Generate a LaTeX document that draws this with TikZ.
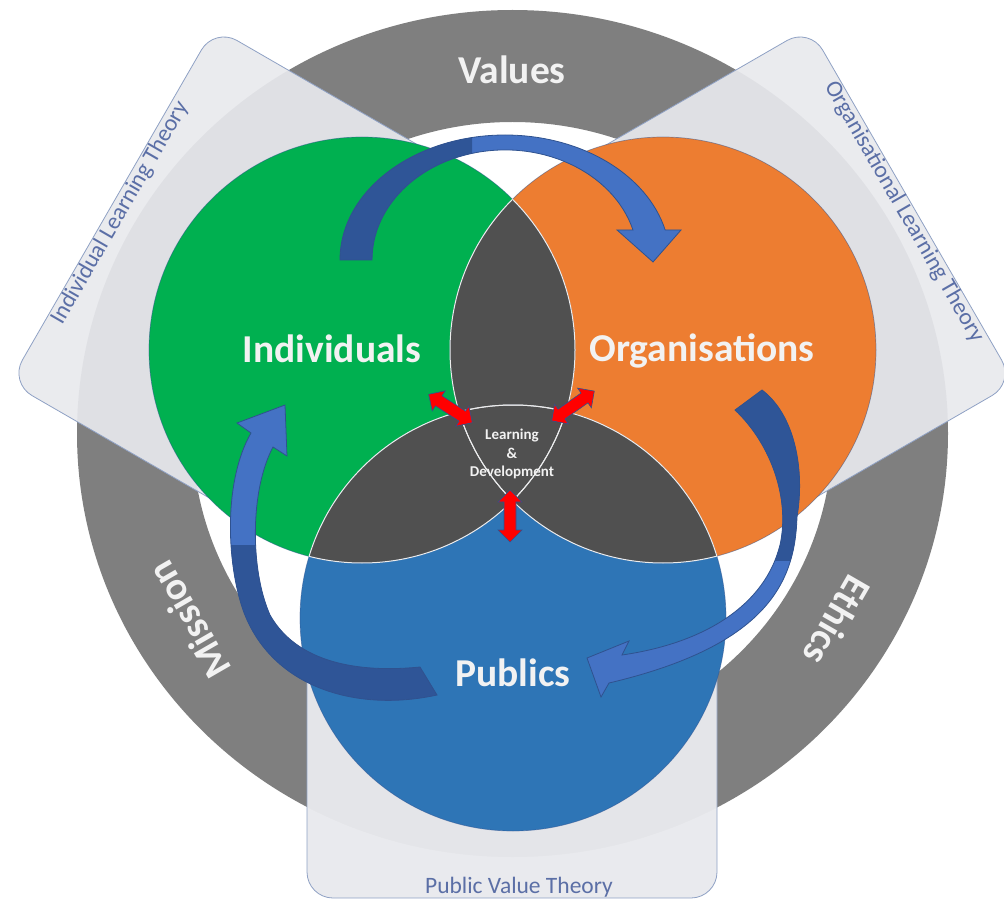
\documentclass[tikz,border=0pt]{standalone}
\usepackage{fontspec}
\setmainfont{Carlito}
\definecolor{ringgray}{HTML}{7F7F7F}
\definecolor{tabfill}{HTML}{E8E9ED}
\definecolor{tabline}{HTML}{8FA1C4}
\definecolor{tabtext}{HTML}{5B6FA6}
\definecolor{cgreen}{HTML}{00B050}
\definecolor{corange}{HTML}{ED7D31}
\definecolor{cblue}{HTML}{2E75B6}
\definecolor{overlap}{HTML}{505050}
\definecolor{arrowlight}{HTML}{4472C4}
\definecolor{arrowdark}{HTML}{2F5597}
\definecolor{arrowline}{HTML}{2F528F}
\definecolor{labelwhite}{HTML}{F2F2F2}
\begin{document}
\begin{tikzpicture}[x=1pt,y=-1pt,
  tab/.style={fill=tabfill, fill opacity=0.92, draw=tabline, line width=0.8pt, rounded corners=26pt},
  tablabel/.style={text=tabtext, font=\fontsize{23.5}{23.5}\selectfont, inner sep=0pt},
  biglabel/.style={text=labelwhite, font=\fontsize{39.5}{39.5}\selectfont\bfseries, inner sep=0pt},
  centrelabel/.style={text=labelwhite, font=\fontsize{15}{18.5}\selectfont\bfseries, align=center, inner sep=0pt},
  circedge/.style={draw=arrowline, draw opacity=0.5, line width=0.7pt},
  innerline/.style={draw=white!85!gray, line width=1pt},
  arrowbody/.style={draw=arrowline, line width=0.8pt},
  dblarrow/.pic={\filldraw[fill=red, draw=arrowline, line width=0.6pt]
     (-26,0) -- (-14,-12) -- (-14,-6) -- (14,-6) -- (14,-12) -- (26,0)
     -- (14,12) -- (14,6) -- (-14,6) -- (-14,12) -- cycle;}
]
\useasboundingbox (0,0) rectangle (1004,901);

% outer ring
\fill[ringgray, even odd rule]
  (512.5,433.5) ellipse[x radius=435.5pt, y radius=423.5pt]
  (512.5,433.5) ellipse[x radius=320pt, y radius=311.5pt];
\node[biglabel, anchor=base] (values) at (512,84) {Values};
\node[biglabel, rotate=120] (mission) at (189,620) {Mission};
\node[biglabel, rotate=-120] (ethics) at (837,621) {Ethics};

% theory tabs
\path[tab, fill opacity=0.97] (307,600) rectangle (717,898);
\begin{scope}[rotate around={-120:(512,436)}]
  \path[tab] (307,600) rectangle (717,898);
\end{scope}
\begin{scope}[rotate around={120:(512,436)}]
  \path[tab] (307,600) rectangle (717,898);
\end{scope}
\node[tablabel, rotate=60] (ilt) at (120,213) {Individual Learning Theory};
\node[tablabel, rotate=-60] (olt) at (904,212) {Organisational Learning Theory};
\node[tablabel, anchor=base] (pvt) at (519,893) {Public Value Theory};

% three circles and their overlaps
\def\cG{(362,350) circle[radius=213pt]}
\def\cO{(663,350) circle[radius=213pt]}
\def\cB{(513,618) circle[radius=213pt]}
\fill[cgreen] \cG;
\fill[corange] \cO;
\fill[cblue] \cB;
\begin{scope}\clip \cG; \fill[overlap] \cO; \fill[overlap] \cB; \end{scope}
\begin{scope}\clip \cO; \fill[overlap] \cB; \end{scope}
\path[circedge] \cG; \path[circedge] \cO; \path[circedge] \cB;
\begin{scope}\clip \cG; \path[innerline] \cO; \path[innerline] \cB; \end{scope}
\begin{scope}\clip \cO; \path[innerline] \cG; \path[innerline] \cB; \end{scope}
\begin{scope}\clip \cB; \path[innerline] \cG; \path[innerline] \cO; \end{scope}

\node[biglabel, anchor=base] (indiv) at (332,362) {Individuals};
\node[biglabel, anchor=base] (org) at (702,361) {Organisations};
\node[biglabel, anchor=base] (pub) at (513,686) {Publics};
\node[centrelabel] (ld) at (512,454) {Learning\\\&\\Development};

% curved arrow: individuals -> organisations
\def\arrowtop{(340,260) arc[start angle=180, end angle=13.9, x radius=165pt, y radius=125pt]
  -- (681,230) -- (653,262) -- (617,230) -- (633,230)
  arc[start angle=15.8, end angle=180, x radius=133pt, y radius=110pt] -- cycle}
\fill[arrowlight] \arrowtop;
\begin{scope}\clip (0,0) rectangle (472,300); \fill[arrowdark] \arrowtop; \end{scope}
\path[arrowbody] \arrowtop;

% curved arrow: organisations -> publics
\def\arrowright{(735,410) -- (762,390)
  .. controls (795,415) and (805,470) .. (797,517)
  .. controls (795,580) and (770,645) .. (609,683)
  -- (601,697) -- (587,658) -- (629,641) -- (622,655)
  .. controls (705,643) and (765,605) .. (780,545)
  .. controls (790,500) and (772,445) .. (735,410) -- cycle}
\fill[arrowlight] \arrowright;
\begin{scope}\clip (600,380) rectangle (830,560); \fill[arrowdark] \arrowright; \end{scope}
\path[arrowbody] \arrowright;

% curved arrow: publics -> individuals
\def\arrowleft{(420,667) -- (437,695)
  .. controls (360,712) and (272,690) .. (243,610)
  .. controls (226,560) and (224,480) .. (251,433)
  -- (237,423) -- (285,405) -- (287,456) -- (273,447)
  .. controls (250,490) and (250,570) .. (270,615)
  .. controls (300,668) and (370,672) .. (420,667) -- cycle}
\fill[arrowlight] \arrowleft;
\begin{scope}\clip (200,545) rectangle (450,720); \fill[arrowdark] \arrowleft; \end{scope}
\path[arrowbody] \arrowleft;

% exchanges with the centre
\pic[rotate=-33] at (450.5,408.5) {dblarrow};
\pic[rotate=35] at (573,406) {dblarrow};
\pic[rotate=90] at (510,516) {dblarrow};
\end{tikzpicture}
\end{document}
